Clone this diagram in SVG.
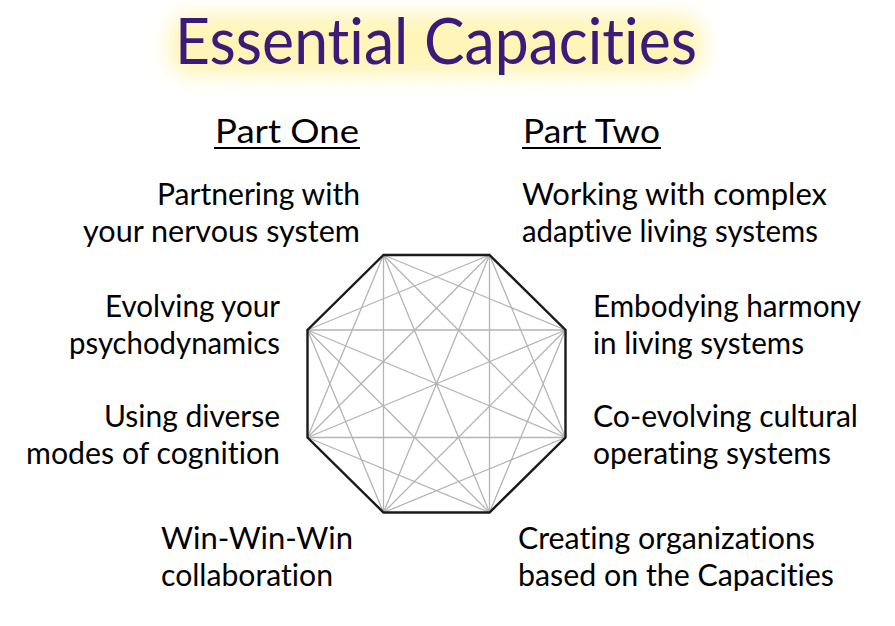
<svg xmlns="http://www.w3.org/2000/svg" width="895" height="626" viewBox="0 0 895 626">
<defs>
<style>
text{font-variant-ligatures:none;font-family:Lato,"Open Sans","Liberation Sans",sans-serif}
.t{font-size:30px;fill:#000}
.h{font-size:32px;fill:#000}
.title{font-size:63px;fill:#3b1a7a}
.d{stroke:#b4b4b4;stroke-width:1.3;fill:none}
.u{stroke:#000;stroke-width:2}
</style>
<filter id="blur" x="-20%" y="-80%" width="140%" height="260%"><feGaussianBlur stdDeviation="10"/></filter>
</defs>
<rect width="895" height="626" fill="#fff"/>
<g id="title">
<rect x="168" y="14" width="536" height="62" rx="25" fill="#fff5b8" filter="url(#blur)"/>
<text class="title" x="175" y="64" textLength="522" lengthAdjust="spacingAndGlyphs">Essential Capacities</text>
</g>
<g id="part-one">
<text class="h" x="215" y="143" textLength="144" lengthAdjust="spacingAndGlyphs">Part One</text>
<line class="u" x1="214" y1="148" x2="360" y2="148"/>
</g>
<g id="part-two">
<text class="h" x="523" y="143" textLength="137" lengthAdjust="spacingAndGlyphs">Part Two</text>
<line class="u" x1="522" y1="148" x2="661" y2="148"/>
</g>
<g id="octagon">
<g id="connectors">
<path class="d" d="M383.5,255L565.5,330M383.5,255L565.5,437.5M383.5,255L489.5,512.5M383.5,255L383.5,512.5M383.5,255L307.5,437.5
M489.5,255L565.5,437.5M489.5,255L489.5,512.5M489.5,255L383.5,512.5M489.5,255L307.5,437.5M489.5,255L307.5,330
M565.5,330L489.5,512.5M565.5,330L383.5,512.5M565.5,330L307.5,437.5M565.5,330L307.5,330
M565.5,437.5L383.5,512.5M565.5,437.5L307.5,437.5M565.5,437.5L307.5,330
M489.5,512.5L307.5,437.5M489.5,512.5L307.5,330
M383.5,512.5L307.5,330"/>
</g>
<polygon points="383.5,255 489.5,255 565.5,330 565.5,437.5 489.5,512.5 383.5,512.5 307.5,437.5 307.5,330" fill="none" stroke="#1a1a1a" stroke-width="2.4" stroke-linejoin="miter"/>
</g>
<g id="cap1"><text class="t" text-anchor="end"><tspan x="360" y="205" textLength="203" lengthAdjust="spacingAndGlyphs">Partnering with</tspan><tspan x="360" y="242" textLength="277" lengthAdjust="spacingAndGlyphs">your nervous system</tspan></text></g>
<g id="cap2"><text class="t" text-anchor="end"><tspan x="280" y="317" textLength="175" lengthAdjust="spacingAndGlyphs">Evolving your</tspan><tspan x="280" y="354" textLength="211" lengthAdjust="spacingAndGlyphs">psychodynamics</tspan></text></g>
<g id="cap3"><text class="t" text-anchor="end"><tspan x="280" y="427" textLength="176" lengthAdjust="spacingAndGlyphs">Using diverse</tspan><tspan x="280" y="464" textLength="254" lengthAdjust="spacingAndGlyphs">modes of cognition</tspan></text></g>
<g id="cap4"><text class="t"><tspan x="161" y="549" textLength="192" lengthAdjust="spacingAndGlyphs">Win-Win-Win</tspan><tspan x="161" y="586" textLength="172" lengthAdjust="spacingAndGlyphs">collaboration</tspan></text></g>
<g id="cap5"><text class="t"><tspan x="522" y="205" textLength="305" lengthAdjust="spacingAndGlyphs">Working with complex</tspan><tspan x="522" y="242" textLength="296" lengthAdjust="spacingAndGlyphs">adaptive living systems</tspan></text></g>
<g id="cap6"><text class="t"><tspan x="593" y="317" textLength="268" lengthAdjust="spacingAndGlyphs">Embodying harmony</tspan><tspan x="593" y="354" textLength="211" lengthAdjust="spacingAndGlyphs">in living systems</tspan></text></g>
<g id="cap7"><text class="t"><tspan x="593" y="427" textLength="265" lengthAdjust="spacingAndGlyphs">Co-evolving cultural</tspan><tspan x="593" y="464" textLength="238" lengthAdjust="spacingAndGlyphs">operating systems</tspan></text></g>
<g id="cap8"><text class="t"><tspan x="518" y="549" textLength="297" lengthAdjust="spacingAndGlyphs">Creating organizations</tspan><tspan x="518" y="586" textLength="316" lengthAdjust="spacingAndGlyphs">based on the Capacities</tspan></text></g>
</svg>
